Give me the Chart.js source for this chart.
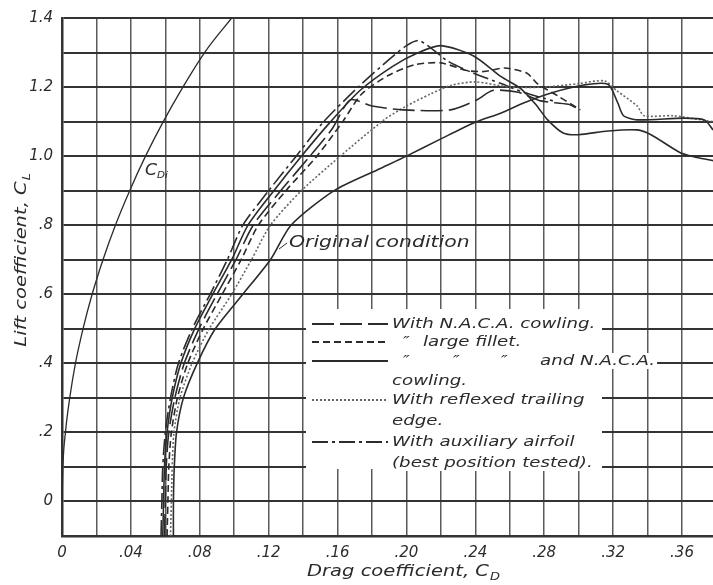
<!DOCTYPE html>
<html>
<head>
<meta charset="utf-8">
<script src="https://cdn.jsdelivr.net/npm/chart.js@4.4.0/dist/chart.umd.min.js"></script>
<style>
  html, body { margin: 0; padding: 0; background: #fff; }
</style>
</head>
<body>
<canvas id="chart" width="713" height="585"></canvas>
<script>
// tick labels
const xTickValues = [0, 0.04, 0.08, 0.12, 0.16, 0.20, 0.24, 0.28, 0.32, 0.36];
const xTickLabels = ['0', '.04', '.08', '.12', '.16', '.20', '.24', '.28', '.32', '.36'];
const yTickValues = [0, 0.2, 0.4, 0.6, 0.8, 1.0, 1.2, 1.4];
const yTickLabels = ['0', '.2', '.4', '.6', '.8', '1.0', '1.2', '1.4'];

// induced drag, C_Di
const cdiDrag = [0, 0.0005, 0.002, 0.0045, 0.0078, 0.0122, 0.0175, 0.0238, 0.031, 0.0393, 0.0485, 0.0588, 0.0702, 0.0828, 0.0985];
const cdiLift = [0, 0.1, 0.2, 0.3, 0.4, 0.5, 0.6, 0.7, 0.8, 0.9, 1.0, 1.1, 1.2, 1.3, 1.4];

// original condition
const originalDrag = [0.0647, 0.0647, 0.0652, 0.0665, 0.0705, 0.0785, 0.089, 0.105, 0.121, 0.133, 0.158, 0.183, 0.2, 0.22, 0.239, 0.255, 0.268, 0.284, 0.303, 0.317, 0.3227, 0.326, 0.334, 0.361, 0.373, 0.378];
const originalLift = [-0.1, 0, 0.1, 0.2, 0.3, 0.4, 0.5, 0.6, 0.7, 0.8, 0.9, 0.96, 1.0, 1.05, 1.096, 1.125, 1.154, 1.183, 1.206, 1.208, 1.154, 1.117, 1.105, 1.11, 1.105, 1.076];

// with N.A.C.A. cowling
const cowlingDrag = [0.0595, 0.06, 0.0605, 0.062, 0.0655, 0.071, 0.0795, 0.09, 0.101, 0.111, 0.127, 0.144, 0.157, 0.1674, 0.18, 0.198, 0.2256, 0.241, 0.25, 0.265, 0.278, 0.294, 0.301];
const cowlingLift = [-0.1, 0, 0.1, 0.2, 0.3, 0.4, 0.5, 0.6, 0.7, 0.8, 0.9, 1.0, 1.08, 1.163, 1.145, 1.134, 1.134, 1.163, 1.19, 1.185, 1.16, 1.15, 1.134];

// large fillet
const filletDrag = [0.061, 0.0615, 0.062, 0.0635, 0.067, 0.073, 0.082, 0.093, 0.104, 0.114, 0.13, 0.148, 0.163, 0.174, 0.19, 0.205, 0.22, 0.235, 0.245, 0.257, 0.27, 0.276, 0.288, 0.301];
const filletLift = [-0.1, 0, 0.1, 0.2, 0.3, 0.4, 0.5, 0.6, 0.7, 0.8, 0.9, 1.0, 1.1, 1.18, 1.235, 1.265, 1.27, 1.248, 1.245, 1.255, 1.24, 1.21, 1.174, 1.134];

// large fillet and N.A.C.A. cowling
const filletCowlDrag = [0.0585, 0.059, 0.0595, 0.061, 0.064, 0.069, 0.077, 0.0875, 0.0985, 0.108, 0.123, 0.139, 0.156, 0.173, 0.192, 0.207, 0.22, 0.239, 0.255, 0.266, 0.275, 0.282, 0.291, 0.3, 0.317, 0.334, 0.342, 0.359, 0.369, 0.378];
const filletCowlLift = [-0.1, 0, 0.1, 0.2, 0.3, 0.4, 0.5, 0.6, 0.7, 0.8, 0.9, 1.0, 1.1, 1.19, 1.26, 1.3, 1.32, 1.29, 1.23, 1.197, 1.15, 1.105, 1.067, 1.062, 1.073, 1.076, 1.062, 1.01, 0.996, 0.987];

// reflexed trailing edge
const reflexedDrag = [0.063, 0.0635, 0.064, 0.065, 0.0685, 0.0755, 0.0855, 0.0985, 0.11, 0.121, 0.139, 0.1616, 0.187, 0.2, 0.214, 0.226, 0.24, 0.26, 0.28, 0.3, 0.315, 0.322, 0.334, 0.338, 0.355, 0.371, 0.378];
const reflexedLift = [-0.1, 0, 0.1, 0.2, 0.3, 0.4, 0.5, 0.6, 0.7, 0.8, 0.9, 1.0, 1.105, 1.145, 1.18, 1.205, 1.215, 1.2, 1.2, 1.21, 1.218, 1.19, 1.145, 1.117, 1.117, 1.105, 1.1];

// auxiliary airfoil
const auxDrag = [0.0575, 0.058, 0.0585, 0.06, 0.063, 0.0676, 0.0756, 0.086, 0.096, 0.105, 0.12, 0.136, 0.152, 0.172, 0.19, 0.2, 0.207, 0.215, 0.224, 0.239, 0.255, 0.268, 0.285];
const auxLift = [-0.1, 0, 0.1, 0.2, 0.3, 0.4, 0.5, 0.6, 0.7, 0.8, 0.9, 1.0, 1.1, 1.2, 1.28, 1.32, 1.335, 1.31, 1.275, 1.24, 1.21, 1.185, 1.16];

const INK = '#2b2b2b';
const FONT = '"DejaVu Sans", sans-serif';
const WIDE = 1.3; // lettering is wider than DejaVu

const pts = (xs, ys) => xs.map((x, i) => ({ x: x, y: ys[i] }));

function curve(label, xs, ys, dash, color, width) {
  return {
    label: label,
    data: pts(xs, ys),
    borderColor: color || INK,
    borderWidth: width || 1.6,
    borderDash: dash,
    pointRadius: 0,
    tension: 0.25,
    fill: false
  };
}

// stretched text, returns drawn width
function wideText(ctx, text, x, y, sx) {
  const w = ctx.measureText(text).width * sx;
  ctx.save();
  ctx.translate(x, y);
  ctx.scale(sx, 1);
  ctx.fillText(text, 0, 0);
  ctx.restore();
  return w;
}

// legend drawn inside the grid, on a white patch
const legendRows = [
  { y: 324, dash: [22, 6], parts: [[392, 'With N.A.C.A. cowling.']] },
  { y: 342, dash: [7, 4], parts: [[403, '\u2033'], [423, 'large fillet.']] },
  { y: 361, dash: [], parts: [[403, '\u2033'], [453, '\u2033'], [501, '\u2033'], [540, 'and N.A.C.A.']] },
  { y: 381, parts: [[392, 'cowling.']] },
  { y: 400, dash: [2, 2], color: '#666', parts: [[392, 'With reflexed trailing']] },
  { y: 421, parts: [[392, 'edge.']] },
  { y: 442, dash: [16, 4, 3, 4], parts: [[392, 'With auxiliary airfoil']] },
  { y: 463, parts: [[392, '(best position tested).']] }
];

const annotations = {
  id: 'annotations',
  afterDatasetsDraw(chart) {
    const ctx = chart.ctx;
    ctx.save();
    ctx.font = 'italic 14px ' + FONT;
    ctx.textBaseline = 'middle';
    ctx.textAlign = 'left';

    // white patch behind legend
    ctx.fillStyle = '#fff';
    ctx.fillRect(306, 309, 296, 160);
    legendRows.forEach(r => {
      r.parts.forEach(p => {
        const w = ctx.measureText(p[1]).width * WIDE;
        ctx.fillRect(p[0] - 2, r.y - 8, w + 4, 16);
      });
    });

    legendRows.forEach(r => {
      if (r.dash) {
        ctx.strokeStyle = r.color || INK;
        ctx.lineWidth = 1.8;
        ctx.setLineDash(r.dash);
        ctx.beginPath();
        ctx.moveTo(312, r.y);
        ctx.lineTo(388, r.y);
        ctx.stroke();
        ctx.setLineDash([]);
      }
      ctx.fillStyle = INK;
      r.parts.forEach(p => wideText(ctx, p[1], p[0], r.y, WIDE));
    });

    // curve labels
    ctx.font = 'italic 15px ' + FONT;
    wideText(ctx, 'C', 145, 171, 1.15);
    ctx.font = 'italic 9px ' + FONT;
    wideText(ctx, 'Di', 157, 176, 1.15);

    ctx.font = 'italic 15px ' + FONT;
    wideText(ctx, 'Original condition', 289, 243, 1.36);
    ctx.strokeStyle = INK;
    ctx.lineWidth = 1;
    ctx.beginPath();
    ctx.moveTo(287, 243);
    ctx.lineTo(279, 249);
    ctx.stroke();

    // axis titles with subscripts
    ctx.font = 'italic 15px ' + FONT;
    const xt = 'Drag coefficient, C';
    const xw = ctx.measureText(xt).width * WIDE;
    const x0 = 402 - (xw + 8) / 2;
    wideText(ctx, xt, x0, 572, WIDE);
    ctx.font = 'italic 10px ' + FONT;
    wideText(ctx, 'D', x0 + xw + 1, 577, WIDE);

    ctx.translate(22, 260);
    ctx.rotate(-Math.PI / 2);
    ctx.font = 'italic 15px ' + FONT;
    const yt = 'Lift coefficient, C';
    const yw = ctx.measureText(yt).width * WIDE;
    const y0 = -(yw + 8) / 2;
    wideText(ctx, yt, y0, 0, WIDE);
    ctx.font = 'italic 10px ' + FONT;
    wideText(ctx, 'L', y0 + yw + 1, 5, WIDE);
    ctx.restore();
  }
};

const datasets = [
  curve('C_Di', cdiDrag, cdiLift, [], INK, 1.3),
  curve('Original condition', originalDrag, originalLift, []),
  curve('With N.A.C.A. cowling', cowlingDrag, cowlingLift, [22, 6]),
  curve('Large fillet', filletDrag, filletLift, [7, 4]),
  curve('Large fillet and N.A.C.A. cowling', filletCowlDrag, filletCowlLift, []),
  curve('With reflexed trailing edge', reflexedDrag, reflexedLift, [2, 2], '#666', 1.6),
  curve('With auxiliary airfoil', auxDrag, auxLift, [16, 4, 3, 4])
];
datasets[0].cubicInterpolationMode = 'monotone';

new Chart(document.getElementById('chart'), {
  type: 'line',
  data: { datasets: datasets },
  options: {
    responsive: false,
    animation: false,
    events: [],
    layout: { padding: { top: 15, right: 0, left: 0, bottom: 0 } },
    plugins: { legend: { display: false }, tooltip: { enabled: false } },
    scales: {
      x: {
        type: 'linear',
        min: 0,
        max: 0.378,
        afterFit: s => { s.height = 49; },
        border: { display: true, color: '#333', width: 2.5 },
        grid: { color: '#5a5a5a', lineWidth: 1.5, drawTicks: false },
        ticks: {
          stepSize: 0.02,
          includeBounds: false,
          autoSkip: false,
          maxRotation: 0,
          padding: 8,
          color: INK,
          font: { family: FONT, size: 15, style: 'italic' },
          callback: v => {
            const i = xTickValues.findIndex(t => Math.abs(t - v) < 1e-6);
            return i >= 0 ? xTickLabels[i] : '';
          }
        }
      },
      y: {
        type: 'linear',
        min: -0.1,
        max: 1.4,
        afterFit: s => { s.width = 62; },
        border: { display: true, color: '#333', width: 2.5 },
        grid: { color: '#333', lineWidth: 2, drawTicks: false },
        ticks: {
          stepSize: 0.1,
          autoSkip: false,
          padding: 9,
          color: INK,
          font: { family: FONT, size: 15, style: 'italic' },
          callback: v => {
            const i = yTickValues.findIndex(t => Math.abs(t - v) < 1e-6);
            return i >= 0 ? yTickLabels[i] : '';
          }
        }
      }
    }
  },
  plugins: [annotations]
});
</script>
</body>
</html>
